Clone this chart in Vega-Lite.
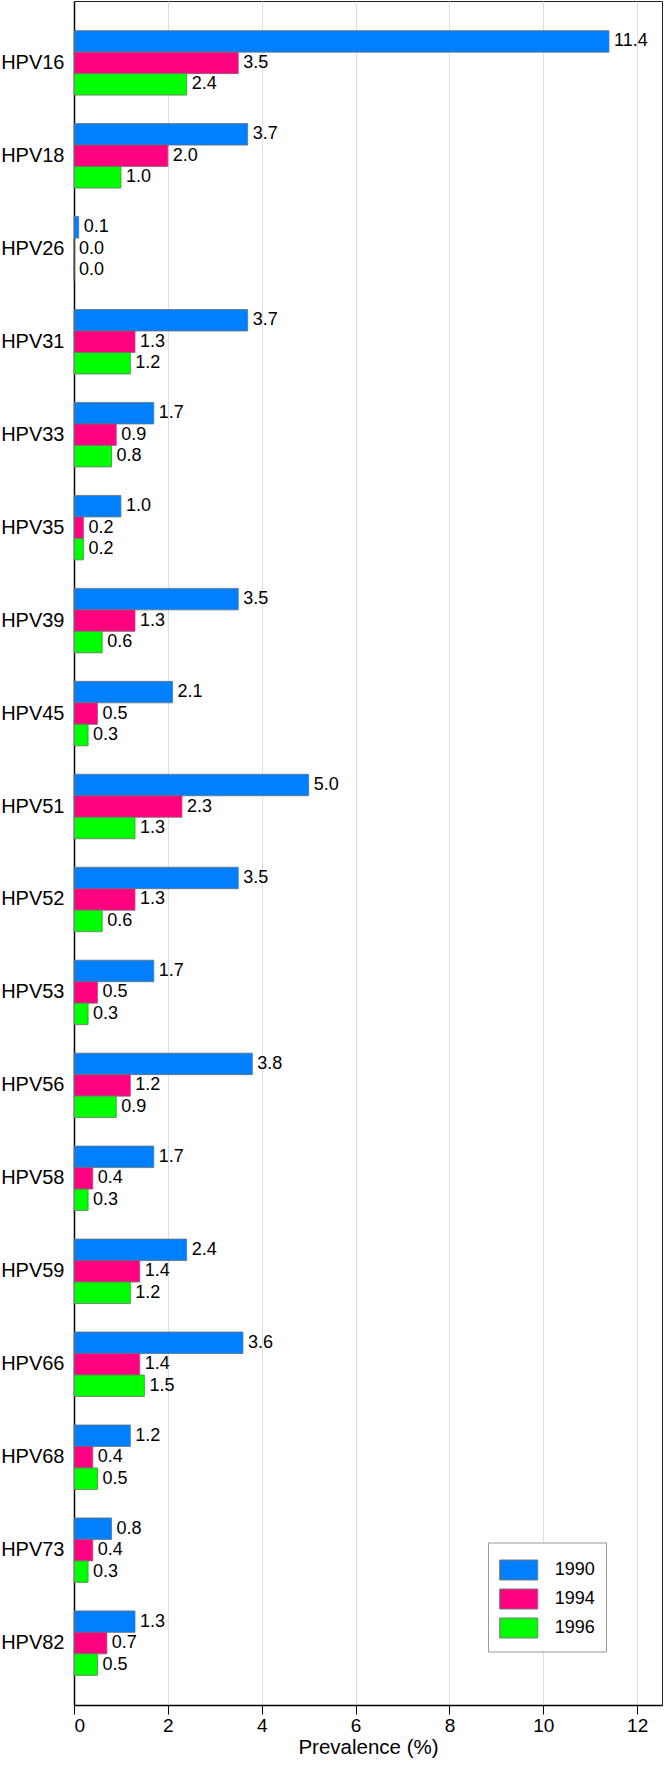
{
  "$schema": "https://vega.github.io/schema/vega-lite/v6.json",
  "width": 588,
  "height": 1704,
  "autosize": {"type": "none"},
  "padding": {"left": 74, "top": 1, "right": 2, "bottom": 61},
  "background": "white",
  "config": {
    "font": "Liberation Sans",
    "view": {"stroke": "#222", "strokeWidth": 1},
    "axis": {"labelColor": "black", "titleColor": "black", "labelFont": "Liberation Sans", "titleFont": "Liberation Sans"}
  },
  "data": {
    "values": [
      {"type": "HPV16", "year": "1990", "value": 11.4},
      {"type": "HPV16", "year": "1994", "value": 3.5},
      {"type": "HPV16", "year": "1996", "value": 2.4},
      {"type": "HPV18", "year": "1990", "value": 3.7},
      {"type": "HPV18", "year": "1994", "value": 2.0},
      {"type": "HPV18", "year": "1996", "value": 1.0},
      {"type": "HPV26", "year": "1990", "value": 0.1},
      {"type": "HPV26", "year": "1994", "value": 0.0},
      {"type": "HPV26", "year": "1996", "value": 0.0},
      {"type": "HPV31", "year": "1990", "value": 3.7},
      {"type": "HPV31", "year": "1994", "value": 1.3},
      {"type": "HPV31", "year": "1996", "value": 1.2},
      {"type": "HPV33", "year": "1990", "value": 1.7},
      {"type": "HPV33", "year": "1994", "value": 0.9},
      {"type": "HPV33", "year": "1996", "value": 0.8},
      {"type": "HPV35", "year": "1990", "value": 1.0},
      {"type": "HPV35", "year": "1994", "value": 0.2},
      {"type": "HPV35", "year": "1996", "value": 0.2},
      {"type": "HPV39", "year": "1990", "value": 3.5},
      {"type": "HPV39", "year": "1994", "value": 1.3},
      {"type": "HPV39", "year": "1996", "value": 0.6},
      {"type": "HPV45", "year": "1990", "value": 2.1},
      {"type": "HPV45", "year": "1994", "value": 0.5},
      {"type": "HPV45", "year": "1996", "value": 0.3},
      {"type": "HPV51", "year": "1990", "value": 5.0},
      {"type": "HPV51", "year": "1994", "value": 2.3},
      {"type": "HPV51", "year": "1996", "value": 1.3},
      {"type": "HPV52", "year": "1990", "value": 3.5},
      {"type": "HPV52", "year": "1994", "value": 1.3},
      {"type": "HPV52", "year": "1996", "value": 0.6},
      {"type": "HPV53", "year": "1990", "value": 1.7},
      {"type": "HPV53", "year": "1994", "value": 0.5},
      {"type": "HPV53", "year": "1996", "value": 0.3},
      {"type": "HPV56", "year": "1990", "value": 3.8},
      {"type": "HPV56", "year": "1994", "value": 1.2},
      {"type": "HPV56", "year": "1996", "value": 0.9},
      {"type": "HPV58", "year": "1990", "value": 1.7},
      {"type": "HPV58", "year": "1994", "value": 0.4},
      {"type": "HPV58", "year": "1996", "value": 0.3},
      {"type": "HPV59", "year": "1990", "value": 2.4},
      {"type": "HPV59", "year": "1994", "value": 1.4},
      {"type": "HPV59", "year": "1996", "value": 1.2},
      {"type": "HPV66", "year": "1990", "value": 3.6},
      {"type": "HPV66", "year": "1994", "value": 1.4},
      {"type": "HPV66", "year": "1996", "value": 1.5},
      {"type": "HPV68", "year": "1990", "value": 1.2},
      {"type": "HPV68", "year": "1994", "value": 0.4},
      {"type": "HPV68", "year": "1996", "value": 0.5},
      {"type": "HPV73", "year": "1990", "value": 0.8},
      {"type": "HPV73", "year": "1994", "value": 0.4},
      {"type": "HPV73", "year": "1996", "value": 0.3},
      {"type": "HPV82", "year": "1990", "value": 1.3},
      {"type": "HPV82", "year": "1994", "value": 0.7},
      {"type": "HPV82", "year": "1996", "value": 0.5}
    ]
  },
  "encoding": {
    "y": {
      "field": "type",
      "type": "nominal",
      "sort": null,
      "scale": {"paddingInner": 0.3065, "paddingOuter": 0.319},
      "axis": {
        "title": null,
        "ticks": false,
        "labelFontSize": 20,
        "labelPadding": 10,
        "domainColor": "black",
        "domainWidth": 1.5
      }
    },
    "yOffset": {
      "field": "year",
      "type": "nominal",
      "scale": {"paddingInner": 0, "paddingOuter": 0}
    },
    "x": {
      "field": "value",
      "type": "quantitative",
      "scale": {"domain": [0, 12.53], "nice": false, "zero": true},
      "axis": {
        "title": "Prevalence (%)",
        "values": [0, 2, 4, 6, 8, 10, 12],
        "grid": true,
        "gridColor": "#dddddd",
        "gridWidth": 1,
        "domainColor": "black",
        "domainWidth": 1.5,
        "tickColor": "black",
        "tickSize": 9,
        "tickWidth": 1,
        "labelFontSize": 19,
        "labelPadding": 2,
        "titleFontSize": 20.5,
        "titleFontWeight": "normal",
        "titlePadding": 2
      }
    }
  },
  "layer": [
    {
      "mark": {"type": "bar", "stroke": "#6f6f6f", "strokeWidth": 0.8},
      "encoding": {
        "color": {
          "field": "year",
          "type": "nominal",
          "scale": {"domain": ["1990", "1994", "1996"], "range": ["#0080FF", "#FF0080", "#00FF00"]},
          "legend": {
            "orient": "none",
            "legendX": 414,
            "legendY": 1541.5,
            "title": null,
            "fillColor": "white",
            "strokeColor": "#999999",
            "padding": 11,
            "symbolType": "M-1.2,-0.631H1.2V0.631H-1.2Z",
            "symbolSize": 1003,
            "symbolOffset": 3.2,
            "symbolStrokeColor": "#777777",
            "symbolStrokeWidth": 1,
            "symbolOpacity": 1,
            "labelFontSize": 18,
            "labelColor": "black",
            "labelOffset": 19.5,
            "rowPadding": 0
          }
        }
      }
    },
    {
      "mark": {"type": "text", "align": "left", "baseline": "middle", "dx": 5, "fontSize": 18, "color": "black"},
      "encoding": {
        "text": {"field": "value", "type": "quantitative", "format": ".1f"}
      }
    }
  ]
}
